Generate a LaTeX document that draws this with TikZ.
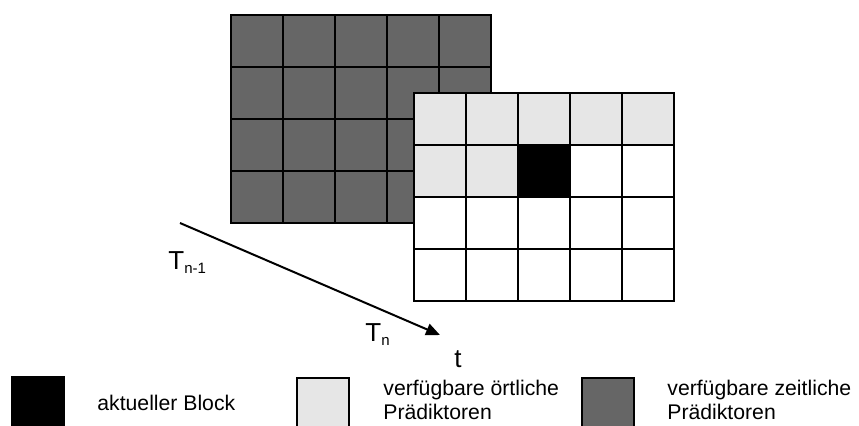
\documentclass[tikz,border=0pt]{standalone}
\usepackage{fontspec}
\setmainfont{Liberation Sans}
\usetikzlibrary{arrows.meta}

\definecolor{zeitgrau}{RGB}{102,102,102}
\definecolor{ortgrau}{RGB}{230,230,230}
\newcommand{\tidx}[1]{\raisebox{-2pt}{\fontsize{7.5}{9}\selectfont #1}}

\tikzset{
  cell/.style={draw=black, line width=0.7pt, minimum size=26pt, inner sep=0pt, outer sep=0pt},
  zeit/.style={cell, fill=zeitgrau},
  ort/.style={cell, fill=ortgrau},
  akt/.style={cell, fill=black},
  leer/.style={cell, fill=white},
  legtext/.style={font=\fontsize{10.6}{12}\selectfont, align=left, inner sep=0pt},
  tlabel/.style={font=\fontsize{13}{15}\selectfont, inner sep=0pt},
  zeitpfeil/.style={line width=1pt, -{Triangle[length=7pt, width=6pt]}}
}

\begin{document}
\begin{tikzpicture}[x=0.5pt, y=-0.5pt]
\useasboundingbox (0,0) rectangle (859,425);

% Bild T_{n-1}
\foreach \r in {1,...,4}
  \foreach \c in {1,...,5}
    \node[zeit] (alt-\r-\c) at (205+52*\c, -11+52*\r) {};

% Bild T_n
\foreach \c in {1,...,5}
  \node[ort] (neu-1-\c) at (388+52*\c, 119) {};
\foreach \c/\sty in {1/ort, 2/ort, 3/akt, 4/leer, 5/leer}
  \node[\sty] (neu-2-\c) at (388+52*\c, 171) {};
\foreach \r in {3,4}
  \foreach \c in {1,...,5}
    \node[leer] (neu-\r-\c) at (388+52*\c, 67+52*\r) {};

% Zeitachse
\coordinate (tstart) at (180,223);
\coordinate (tend) at (440,335);
\draw[zeitpfeil] (tstart) -- (tend);
\node[tlabel, anchor=base west] (tvor) at (168,269) {T\tidx{n-1}};
\node[tlabel, anchor=base west] (takt) at (365,341) {T\tidx{n}};
\node[tlabel, anchor=base west] (tachse) at (454,367) {t};

% Legende
\node[akt, minimum height=25pt] (leg-akt) at (38,402) {};
\node[legtext, anchor=west] (txt-akt) at (97,403) {aktueller Block};
\node[ort, minimum height=25pt] (leg-ort) at (323,403) {};
\node[legtext, anchor=north west] (txt-ort) at (383,380) {verfügbare örtliche\\Prädiktoren};
\node[zeit, minimum height=25pt] (leg-zeit) at (608,403) {};
\node[legtext, anchor=north west] (txt-zeit) at (667,380) {verfügbare zeitliche\\Prädiktoren};
\end{tikzpicture}
\end{document}
